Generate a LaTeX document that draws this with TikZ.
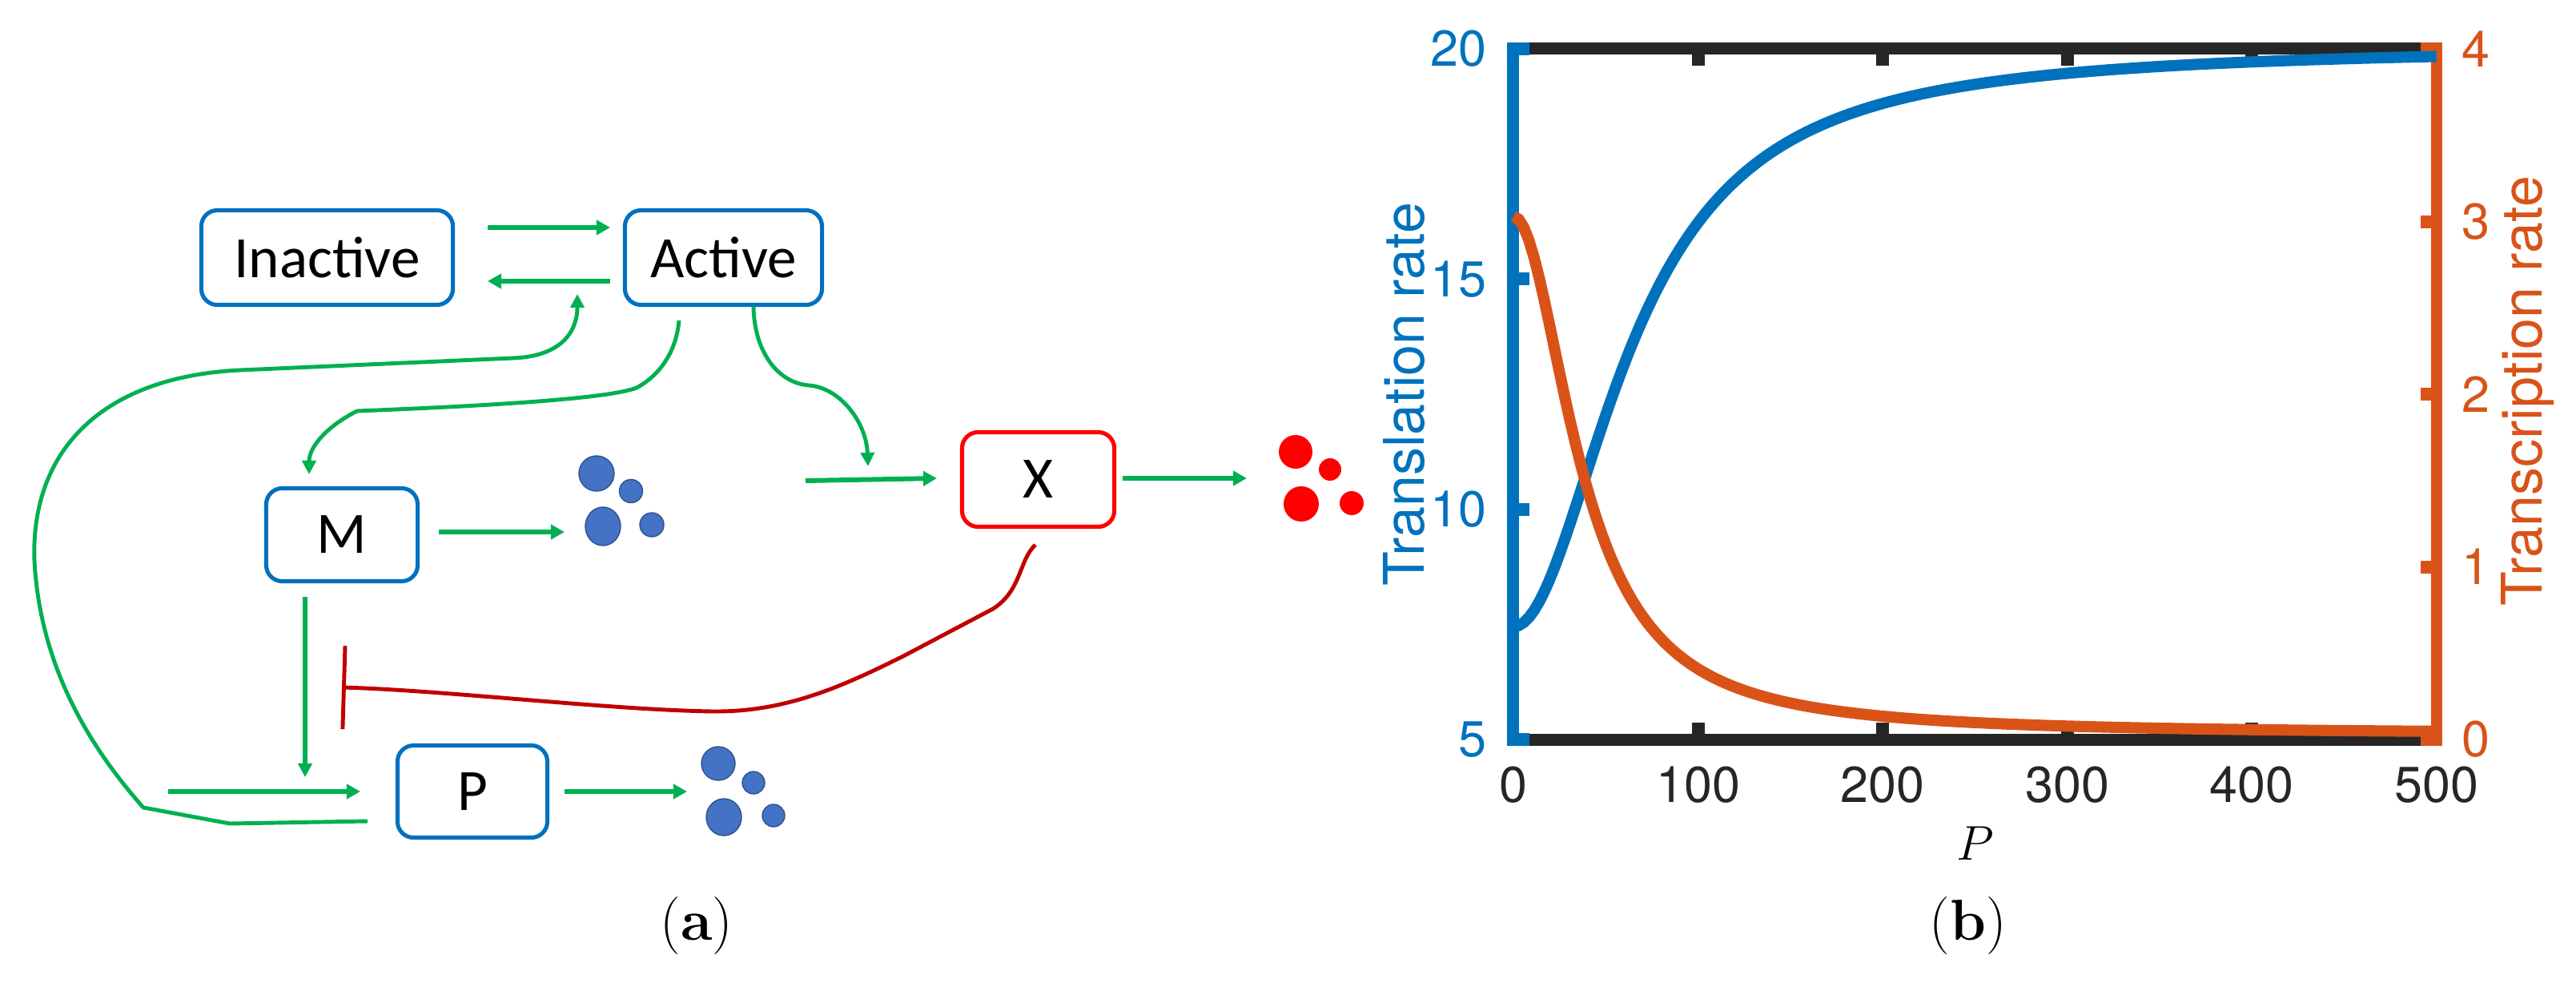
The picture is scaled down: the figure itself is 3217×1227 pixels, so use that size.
\documentclass[tikz,border=0pt]{standalone}
\usepackage{fontspec}
\newfontfamily\diagfont{Carlito}
\newfontfamily\plotfont{TeX Gyre Heros}
\usetikzlibrary{arrows.meta,calc}
\definecolor{boxblue}{RGB}{0,112,192}
\definecolor{arrgreen}{RGB}{0,176,80}
\definecolor{inhred}{RGB}{192,0,0}
\definecolor{dotblue}{RGB}{68,114,196}
\definecolor{dotedge}{RGB}{47,82,143}
\definecolor{pblue}{RGB}{0,114,189}
\definecolor{porange}{RGB}{217,83,25}
\definecolor{axgray}{RGB}{38,38,38}
\begin{document}
\begin{tikzpicture}[x=0.01cm,y=-0.01cm,
  box/.style={draw=boxblue, line width=1.45pt, rounded corners=0.2cm, inner sep=0pt, outer sep=0pt,
    font=\diagfont\fontsize{20.8pt}{25pt}\selectfont},
  xbox/.style={box, draw=red},
  garr/.style={draw=arrgreen, line width=1.7pt, -{Triangle[length=0.17cm,width=0.18cm]}},
  gcurve/.style={draw=arrgreen, line width=1.4pt, -{Triangle[length=0.17cm,width=0.17cm]}},
  inhib/.style={draw=inhred, line width=1.4pt, -{Bar[width=1.04cm]}},
  bdot/.style={fill=dotblue, draw=dotedge, line width=0.4pt},
  rdot/.style={fill=red},
  ticklab/.style={font=\plotfont\fontsize{17.9pt}{21pt}\selectfont},
  alab/.style={font=\plotfont\fontsize{19.9pt}{24pt}\selectfont},
  captext/.style={font=\fontsize{20.5pt}{24pt}\selectfont}]
\useasboundingbox (0,0) rectangle (3217,1227);

% ---------------- panel (a) ----------------
\node[box, minimum width=3.14cm, minimum height=1.18cm] (inact) at (408.5,321.5) {Inactive};
\node[box, minimum width=2.46cm, minimum height=1.18cm] (act) at (903.5,321.5) {Active};
\node[box, minimum width=1.89cm, minimum height=1.16cm] (M) at (427,667.5) {M};
\node[box, minimum width=1.87cm, minimum height=1.15cm] (P) at (590,988) {P};
\node[xbox, minimum width=1.90cm, minimum height=1.18cm] (X) at (1296.5,598.5) {X};
\coordinate (inhend) at (427,858);

% Inactive <-> Active
\draw[garr] ($(inact)+(200.5,-37.5)$) -- ($(act)+(-141.5,-37.5)$);
\draw[garr] ($(act)+(-141.5,29.5)$) -- ($(inact)+(200.5,29.5)$);

% loop P -> Active
\draw[gcurve] ($(P)+(-131,37)$) -- (287,1028) -- (179,1008)
  .. controls (110,930) and (50,830) .. (43,700)
  .. controls (38,560) and (130,470) .. (300,462)
  -- (640,447)
  .. controls (700,445) and (721,415) .. ($(act)+(-182.5,45.5)$);

% Active -> M
\draw[gcurve] ($(act)+(-55.5,78.5)$)
  .. controls (844,445) and (818,472) .. (795,484)
  .. controls (760,498) and (600,507) .. (446,513)
  .. controls (412,530) and (386,556) .. ($(M)+(-41,-75.5)$);

% Active -> X
\draw[gcurve] ($(act)+(37.5,61.5)$)
  .. controls (942,440) and (972,478) .. (1010,481)
  .. controls (1050,484) and (1082,528) .. ($(X)+(-212.5,-16.5)$);

% into X and out of X
\draw[garr] ($(X)+(-290.5,1.5)$) -- ($(X)+(-126.5,-1.5)$);
\draw[garr] ($(X)+(105.5,-1.5)$) -- ($(X)+(260.5,-1.5)$);

% M -> degradation, M -> P
\draw[garr] ($(M)+(121,-3.5)$) -- ($(M)+(278,-3.5)$);
\draw[gcurve, line width=1.5pt] ($(M)+(-46,77.5)$) -- ($(P)+(-209,-18)$);

% into P and P -> degradation
\draw[garr] ($(P)+(-380,0)$) -- ($(P)+(-140,0)$);
\draw[garr] ($(P)+(115,0)$) -- ($(P)+(268,0)$);

% inhibition
\draw[inhib] ($(X)+(-3.5,81.5)$)
  .. controls (1272,700) and (1276,737) .. (1240,760)
  -- (1130,818)
  .. controls (1050,858) and (980,889) .. (890,888)
  .. controls (760,886) and (560,862) .. (inhend);

% blue dots (M)
\filldraw[bdot] (745,591) circle [radius=22];
\filldraw[bdot] (788,613) circle [radius=14.5];
\filldraw[bdot] (753,657) ellipse [x radius=22, y radius=24];
\filldraw[bdot] (814,655) circle [radius=15];
% blue dots (P)
\filldraw[bdot] (897,953) circle [radius=21];
\filldraw[bdot] (941,977) circle [radius=14];
\filldraw[bdot] (904,1020) ellipse [x radius=22, y radius=23];
\filldraw[bdot] (966,1018) circle [radius=14];
% red dots (X)
\fill[rdot] (1618,564) circle [radius=21];
\fill[rdot] (1661,586) circle [radius=14];
\fill[rdot] (1625,629) circle [radius=22];
\fill[rdot] (1688,628) circle [radius=15];

\node[captext] (capa) at (870,1156) {(\textbf{a})};

% ---------------- panel (b) ----------------
\fill[axgray] (1897,53) rectangle (3036,68);
\fill[axgray] (1897,916) rectangle (3036,931);
\foreach \t in {1,...,4} {
  \fill[axgray] ({1890+230.6*\t-8},68) rectangle ({1890+230.6*\t+8},82);
  \fill[axgray] ({1890+230.6*\t-8},902) rectangle ({1890+230.6*\t+8},916);
}
\fill[pblue] (1882,53) rectangle (1897,931);
\foreach \v in {5,10,15,20} {
  \fill[pblue] (1897,{923-(\v-5)*57.47-8}) rectangle (1910,{923-(\v-5)*57.47+8});
  \node[ticklab, text=pblue, anchor=east] (yl\v) at (1869,{923-(\v-5)*57.47}) {\v};
}
\fill[porange] (3036,53) rectangle (3050,931);
\foreach \w in {0,...,4} {
  \fill[porange] (3023,{923-\w*215.5-8}) rectangle (3036,{923-\w*215.5+8});
  \node[ticklab, text=porange, anchor=west] (yr\w) at (3062,{923-\w*215.5}) {\w};
}
\foreach \t/\lab in {0/0,1/100,2/200,3/300,4/400,5/500} {
  \node[ticklab, text=axgray] (xl\t) at ({1890+230.6*\t},980) {\lab};
}
\draw[pblue, line width=4pt] plot[domain=0:5, samples=180]
  ({1890+230.6*\x},{923-57.47*(2.45+12.6*\x*\x/(0.4356+\x*\x))});
\draw[porange, line width=4pt] plot[domain=0:5, samples=180]
  ({1890+230.6*\x},{923-215.5*(3.0*0.1444/(0.1444+\x*\x)+0.03)});

\node[alab, text=pblue, rotate=90, anchor=base] (ylab) at (1778,492) {Translation rate};
\node[alab, text=porange, rotate=90, anchor=base] (ylab2) at (3174,488) {Transcription rate};
\node[font=\fontsize{17.5pt}{21pt}\selectfont] (xlab) at (2467,1053) {$P$};
\node[captext] (capb) at (2458,1156) {(\textbf{b})};
\end{tikzpicture}
\end{document}
